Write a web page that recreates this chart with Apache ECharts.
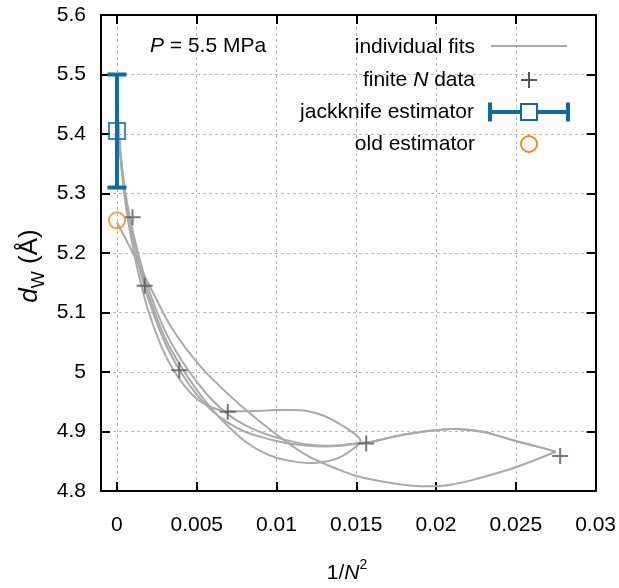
<!DOCTYPE html>
<html><head><meta charset="utf-8">
<script src="https://cdn.jsdelivr.net/npm/echarts@6/dist/echarts.min.js"></script>
<style>html,body{margin:0;padding:0;background:#fff}#c{width:619px;height:588px}</style>
</head><body><div id="c"></div>
<script>
// ---- data ----
const xTicks = [0, 0.005, 0.01, 0.015, 0.02, 0.025, 0.03];
const dataX = [0.000977, 0.001736, 0.003906, 0.006944, 0.015625, 0.027778];
const dataY = [5.260, 5.145, 5.003, 4.933, 4.880, 4.859];
const jackX = [0];
const jackY = [5.405];
const jackLo = [5.31];
const jackHi = [5.50];
const oldX = [0];
const oldY = [5.255];

const fitShortX = [0, 0.00002, 0.00006, 0.00015, 0.0003, 0.0005, 0.00075, 0.001, 0.0014, 0.002, 0.003, 0.004, 0.005, 0.006, 0.007, 0.008, 0.009, 0.010, 0.011, 0.012, 0.013, 0.014, 0.015, 0.0153];
const fitLongX = [0, 0.00002, 0.00006, 0.00015, 0.0003, 0.0005, 0.00075, 0.001, 0.0014, 0.002, 0.003, 0.004, 0.005, 0.006, 0.007, 0.008, 0.009, 0.010, 0.011, 0.012, 0.013, 0.014, 0.015, 0.016, 0.017, 0.018, 0.019, 0.020, 0.021, 0.022, 0.023, 0.024, 0.025, 0.026, 0.027, 0.0275];
const fitAY = [5.500, 5.458, 5.428, 5.385, 5.338, 5.290, 5.246, 5.210, 5.160, 5.100, 5.030, 4.985, 4.955, 4.940, 4.934, 4.934, 4.935, 4.936, 4.936, 4.934, 4.926, 4.912, 4.894, 4.884];
const fitCY = [5.494, 5.455, 5.426, 5.387, 5.343, 5.300, 5.260, 5.228, 5.183, 5.128, 5.058, 5.010, 4.970, 4.936, 4.908, 4.884, 4.867, 4.856, 4.850, 4.847, 4.849, 4.857, 4.875, 4.884];
const fitBY = [5.497, 5.457, 5.428, 5.388, 5.343, 5.298, 5.256, 5.222, 5.176, 5.120, 5.050, 5.000, 4.962, 4.934, 4.914, 4.900, 4.891, 4.884, 4.879, 4.876, 4.875, 4.876, 4.879, 4.883, 4.889, 4.895, 4.899, 4.902, 4.904, 4.903, 4.899, 4.892, 4.884, 4.877, 4.870, 4.866];
const fitEY = [5.491, 5.455, 5.430, 5.393, 5.350, 5.307, 5.268, 5.236, 5.192, 5.138, 5.070, 5.022, 4.984, 4.952, 4.928, 4.911, 4.899, 4.890, 4.883, 4.878, 4.876, 4.877, 4.880, 4.883, 4.889, 4.895, 4.899, 4.902, 4.904, 4.903, 4.899, 4.892, 4.884, 4.877, 4.870, 4.866];
const fitDX = [0, 0.0005, 0.001, 0.0016, 0.0024, 0.0033, 0.0046, 0.0058, 0.0077, 0.01, 0.0119, 0.0139, 0.0152, 0.0173, 0.019, 0.02, 0.0212, 0.0225, 0.025, 0.0275];
const fitDY = [5.252, 5.226, 5.200, 5.168, 5.126, 5.080, 5.030, 4.993, 4.945, 4.895, 4.860, 4.836, 4.824, 4.813, 4.808, 4.808, 4.812, 4.820, 4.840, 4.866];

// ---- styles ----
const FONT = "'Liberation Sans', Arial, Helvetica, sans-serif";
const FS = 21;
const GRAY = '#aaaaaa';
const CROSS = '#555555';
const BLUE = '#0f6aa6';
const ORANGE = '#f5891f';
const zip = (xs, ys) => xs.map((x, i) => [x, ys[i]]);

const fits = [[fitShortX, fitAY], [fitLongX, fitBY], [fitShortX, fitCY], [fitLongX, fitEY], [fitDX, fitDY]];
const fitSeries = fits.map(f => ({
  type: 'line', data: zip(f[0], f[1]), showSymbol: false, smooth: 0.35,
  lineStyle: { color: GRAY, width: 2 }, z: 2, silent: true, xAxisIndex: 0, yAxisIndex: 0
}));

const axisLine = { show: true, onZero: false, lineStyle: { color: '#000', width: 2 } };
const axisTick = { show: true, inside: true, length: 9, lineStyle: { color: '#000', width: 2 } };
const splitStyle = { show: true, lineStyle: { color: '#bbbbbb', width: 1, type: [3, 3] } };
const labelStyle = { color: '#000', fontSize: FS, fontFamily: FONT };
const txt = (s) => Object.assign({ font: FS + 'px ' + FONT, fill: '#000' }, s);

const option = {
  animation: false,
  backgroundColor: '#fff',
  grid: { left: 101, right: 22, top: 15, bottom: 97, containLabel: false },
  xAxis: [
    { type: 'value', position: 'bottom', min: -0.001, max: 0.03,
      axisLine: axisLine,
      axisTick: Object.assign({}, axisTick, { customValues: xTicks }),
      axisLabel: Object.assign({}, labelStyle, { margin: 24, customValues: xTicks,
        formatter: v => (Math.abs(v) < 1e-12 ? '0' : String(+v.toFixed(4))) }),
      splitLine: Object.assign({}, splitStyle, { customValues: xTicks }) },
    { type: 'value', position: 'top', min: -0.001, max: 0.03,
      axisLine: axisLine,
      axisTick: Object.assign({}, axisTick, { customValues: xTicks }),
      axisLabel: { show: false, customValues: xTicks }, splitLine: { show: false } }
  ],
  yAxis: [
    { type: 'value', position: 'left', min: 4.8, max: 5.6, interval: 0.1,
      axisLine: axisLine, axisTick: axisTick,
      axisLabel: Object.assign({}, labelStyle, { margin: 15 }),
      splitLine: splitStyle },
    { type: 'value', position: 'right', min: 4.8, max: 5.6, interval: 0.1,
      axisLine: axisLine, axisTick: axisTick,
      axisLabel: { show: false }, splitLine: { show: false } }
  ],
  series: fitSeries.concat([
    { type: 'scatter', data: zip(dataX, dataY), symbol: 'path://M7,0H9V7H16V9H9V16H7V9H0V7H7Z',
      symbolSize: 16, itemStyle: { color: CROSS }, z: 4, silent: true },
    { type: 'custom', z: 5, silent: true,
      data: jackX.map((x, i) => [x, jackY[i], jackLo[i], jackHi[i]]),
      encode: { x: 0, y: 1 },
      renderItem: function (params, api) {
        const x = api.value(0), lo = api.value(2), hi = api.value(3);
        const pHi = api.coord([x, hi]), pLo = api.coord([x, lo]);
        const st = { stroke: BLUE, lineWidth: 4 };
        return { type: 'group', children: [
          { type: 'line', shape: { x1: pHi[0], y1: pHi[1], x2: pLo[0], y2: pLo[1] }, style: st },
          { type: 'line', shape: { x1: pHi[0] - 9.5, y1: pHi[1], x2: pHi[0] + 9.5, y2: pHi[1] }, style: st },
          { type: 'line', shape: { x1: pLo[0] - 9.5, y1: pLo[1], x2: pLo[0] + 9.5, y2: pLo[1] }, style: st }
        ] };
      } },
    { type: 'scatter', data: zip(jackX, jackY), symbol: 'rect', symbolSize: 16, z: 6, silent: true,
      itemStyle: { color: 'rgba(0,0,0,0)', borderColor: BLUE, borderWidth: 2 } },
    { type: 'scatter', data: zip(oldX, oldY), symbol: 'circle', symbolSize: 16, z: 6, silent: true,
      itemStyle: { color: 'rgba(0,0,0,0)', borderColor: ORANGE, borderWidth: 2 } }
  ]),
  graphic: [
    { type: 'text', x: 150, y: 46, z: 10, style: txt({ text: '{i|P} = 5.5 MPa', verticalAlign: 'middle', align: 'left',
      rich: { i: { fontStyle: 'italic', fontSize: FS, fontFamily: FONT } } }) },
    // legend texts
    { type: 'text', x: 475, y: 47, z: 10, style: txt({ text: 'individual fits', align: 'right', verticalAlign: 'middle' }) },
    { type: 'text', x: 475, y: 80, z: 10, style: txt({ text: 'finite {i|N} data', align: 'right', verticalAlign: 'middle',
      rich: { i: { fontStyle: 'italic', fontSize: FS, fontFamily: FONT } } }) },
    { type: 'text', x: 474, y: 112, z: 10, style: txt({ text: 'jackknife estimator', align: 'right', verticalAlign: 'middle' }) },
    { type: 'text', x: 475, y: 144, z: 10, style: txt({ text: 'old estimator', align: 'right', verticalAlign: 'middle' }) },
    // legend samples
    { type: 'line', z: 10, shape: { x1: 491, y1: 46, x2: 567, y2: 46 }, style: { stroke: GRAY, lineWidth: 2 } },
    { type: 'line', z: 10, shape: { x1: 521, y1: 80, x2: 537, y2: 80 }, style: { stroke: CROSS, lineWidth: 2 } },
    { type: 'line', z: 10, shape: { x1: 529, y1: 72, x2: 529, y2: 88 }, style: { stroke: CROSS, lineWidth: 2 } },
    { type: 'line', z: 10, shape: { x1: 490, y1: 112, x2: 568, y2: 112 }, style: { stroke: BLUE, lineWidth: 4 } },
    { type: 'line', z: 10, shape: { x1: 490, y1: 102.5, x2: 490, y2: 121.5 }, style: { stroke: BLUE, lineWidth: 4 } },
    { type: 'line', z: 10, shape: { x1: 568, y1: 102.5, x2: 568, y2: 121.5 }, style: { stroke: BLUE, lineWidth: 4 } },
    { type: 'rect', z: 11, shape: { x: 521, y: 104, width: 16, height: 16 }, style: { fill: '#fff', stroke: BLUE, lineWidth: 2 } },
    { type: 'circle', z: 10, shape: { cx: 529, cy: 144, r: 8 }, style: { fill: 'none', stroke: ORANGE, lineWidth: 2 } },
    // axis titles
    { type: 'text', x: 347, y: 573, z: 10, style: { text: '{n|1/}{i|N}{sup|2}', align: 'center', verticalAlign: 'middle', fill: '#000',
      rich: { n: { fontSize: FS, fontFamily: FONT, lineHeight: 30 }, i: { fontSize: FS, fontStyle: 'italic', fontFamily: FONT, lineHeight: 30 },
              sup: { fontSize: 14, fontFamily: FONT, lineHeight: 20, verticalAlign: 'top' } } } },
    { type: 'text', x: 30, y: 266, rotation: Math.PI / 2, z: 10, style: { text: '{i|d}{sub|W}{n| (Å)}', align: 'center', verticalAlign: 'middle', fill: '#000',
      rich: { n: { fontSize: 26, fontFamily: FONT, lineHeight: 36 }, i: { fontSize: 26, fontStyle: 'italic', fontFamily: FONT, lineHeight: 36 },
              sub: { fontSize: 18, fontFamily: FONT, lineHeight: 26, verticalAlign: 'bottom' } } } }
  ]
};
const chart = echarts.init(document.getElementById('c'), null, { renderer: 'canvas' });
chart.setOption(option);
</script></body></html>
